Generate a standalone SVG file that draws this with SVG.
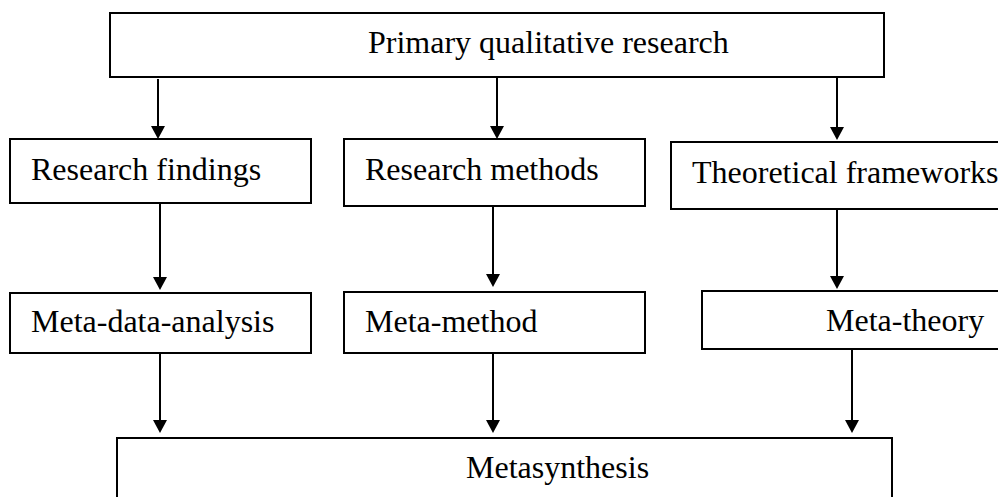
<svg xmlns="http://www.w3.org/2000/svg" width="998" height="497" viewBox="0 0 998 497">
<style>
.box{fill:#fff;stroke:#000;stroke-width:2}
.lbl{font-family:"Liberation Serif","Times New Roman",serif;font-size:32px;fill:#000}
.con{stroke:#000;stroke-width:2;fill:none}
.hd{fill:#000}
</style>
<rect width="998" height="497" fill="#fff"/>
<g id="n-primary"><rect class="box" x="110" y="13" width="774" height="64"/><text class="lbl" x="368" y="53">Primary qualitative research</text></g>
<g id="n-findings"><rect class="box" x="10" y="139" width="301" height="64"/><text class="lbl" x="31" y="180">Research findings</text></g>
<g id="n-methods"><rect class="box" x="344" y="139" width="301" height="67"/><text class="lbl" x="365" y="180">Research methods</text></g>
<g id="n-theory"><rect class="box" x="671" y="142" width="340" height="67"/><text class="lbl" x="692" y="183">Theoretical frameworks</text></g>
<g id="n-mda"><rect class="box" x="10" y="293" width="301" height="60"/><text class="lbl" x="31" y="332">Meta-data-analysis</text></g>
<g id="n-mm"><rect class="box" x="344" y="292" width="301" height="61"/><text class="lbl" x="365" y="332">Meta-method</text></g>
<g id="n-mt"><rect class="box" x="702" y="291" width="310" height="58"/><text class="lbl" x="826" y="331">Meta-theory</text></g>
<g id="n-meta"><rect class="box" x="117" y="438" width="775" height="70"/><text class="lbl" x="466" y="478">Metasynthesis</text></g>
<g id="connectors">
<line class="con" x1="158" y1="79" x2="158" y2="128"/><polygon class="hd" points="151,126 165,126 158,139"/>
<line class="con" x1="497" y1="77" x2="497" y2="128"/><polygon class="hd" points="490,126 504,126 497,139"/>
<line class="con" x1="837" y1="77" x2="837" y2="130"/><polygon class="hd" points="830,127 844,127 837,140"/>
<line class="con" x1="160" y1="203" x2="160" y2="280"/><polygon class="hd" points="153,277 167,277 160,290"/>
<line class="con" x1="493" y1="206" x2="493" y2="276"/><polygon class="hd" points="486,274 500,274 493,287"/>
<line class="con" x1="837" y1="209" x2="837" y2="278"/><polygon class="hd" points="830,276 844,276 837,289"/>
<line class="con" x1="160" y1="353" x2="160" y2="423"/><polygon class="hd" points="153,420 167,420 160,433"/>
<line class="con" x1="493" y1="353" x2="493" y2="423"/><polygon class="hd" points="486,420 500,420 493,433"/>
<line class="con" x1="852" y1="349" x2="852" y2="422"/><polygon class="hd" points="845,420 859,420 852,433"/>
</g>
</svg>
